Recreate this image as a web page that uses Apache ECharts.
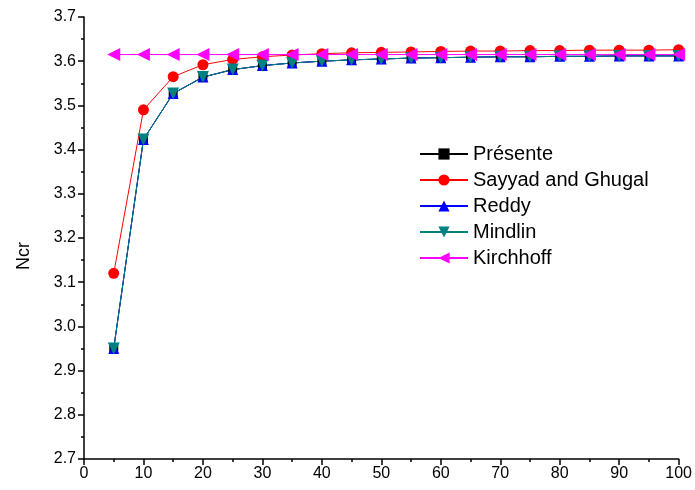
<!DOCTYPE html>
<html>
<head>
<meta charset="utf-8">
<script src="https://cdn.jsdelivr.net/npm/echarts@6/dist/echarts.min.js"></script>
<style>
  html, body { margin: 0; padding: 0; background: #fff; }
  #chart { width: 695px; height: 490px; }
</style>
</head>
<body>
<div id="chart"></div>
<script>
const ratios = [5, 10, 15, 20, 25, 30, 35, 40, 45, 50, 55, 60, 65, 70, 75, 80, 85, 90, 95, 100];
const presente = [2.95, 3.423, 3.527, 3.564, 3.581, 3.59, 3.596, 3.6, 3.603, 3.605, 3.607, 3.608, 3.609, 3.61, 3.61, 3.611, 3.611, 3.612, 3.612, 3.612];
const sayyad = [3.12, 3.49, 3.565, 3.592, 3.604, 3.61, 3.614, 3.617, 3.619, 3.62, 3.621, 3.622, 3.623, 3.623, 3.624, 3.624, 3.625, 3.625, 3.625, 3.626];
const reddy = [2.95, 3.423, 3.527, 3.564, 3.581, 3.59, 3.596, 3.6, 3.603, 3.605, 3.607, 3.608, 3.609, 3.61, 3.61, 3.611, 3.611, 3.612, 3.612, 3.612];
const mindlin = [2.95, 3.423, 3.527, 3.564, 3.581, 3.59, 3.596, 3.6, 3.603, 3.605, 3.607, 3.608, 3.609, 3.61, 3.61, 3.611, 3.611, 3.612, 3.612, 3.612];
const kirchhoff = [3.615, 3.615, 3.615, 3.615, 3.615, 3.615, 3.615, 3.615, 3.615, 3.615, 3.615, 3.615, 3.615, 3.615, 3.615, 3.615, 3.615, 3.615, 3.615, 3.615];

const pair = arr => ratios.map((x, i) => [x, arr[i]]);
const font = 'Liberation Sans, Arial, sans-serif';

const chart = echarts.init(document.getElementById('chart'));

const mk = (name, data, color, symbol, size, extra) => Object.assign({
  name: name,
  type: 'line',
  data: pair(data),
  symbol: symbol,
  symbolSize: size,
  lineStyle: { color: color, width: 1 },
  itemStyle: { color: color },
  animation: false
}, extra || {});

chart.setOption({
  animation: false,
  grid: { left: 84, right: 15, top: 17, bottom: 31 },
  legend: {
    orient: 'vertical',
    left: 414,
    top: 139,
    itemWidth: 48,
    itemHeight: 14,
    itemGap: 6,
    textStyle: { fontFamily: font, fontSize: 20, color: '#000' },
    data: ['Présente', 'Sayyad and Ghugal', 'Reddy', 'Mindlin', 'Kirchhoff']
  },
  xAxis: {
    type: 'value',
    min: 0, max: 100, interval: 10,
    splitLine: { show: false },
    axisLine: { lineStyle: { color: '#000', width: 1.5 } },
    axisTick: { inside: false, length: 6, lineStyle: { color: '#000', width: 1.5 } },
    minorTick: { show: true, splitNumber: 2, length: 3, lineStyle: { color: '#000', width: 1.5 } },
    axisLabel: { color: '#000', fontFamily: font, fontSize: 16, margin: 7 }
  },
  yAxis: {
    type: 'value',
    min: 2.7, max: 3.7, interval: 0.1,
    name: 'Ncr',
    nameLocation: 'middle',
    nameGap: 51,
    nameTextStyle: { color: '#000', fontFamily: font, fontSize: 18, padding: [0, 36, 0, 0] },
    splitLine: { show: false },
    axisLine: { show: true, lineStyle: { color: '#000', width: 1.5 } },
    axisTick: { show: true, inside: false, length: 6, lineStyle: { color: '#000', width: 1.5 } },
    minorTick: { show: true, splitNumber: 2, length: 3, lineStyle: { color: '#000', width: 1.5 } },
    axisLabel: { color: '#000', fontFamily: font, fontSize: 16, margin: 8, formatter: v => v.toFixed(1) }
  },
  series: [
    mk('Présente', presente, '#000000', 'rect', 9),
    mk('Sayyad and Ghugal', sayyad, '#ff0000', 'circle', 11),
    mk('Reddy', reddy, '#0000ff', 'triangle', 11),
    mk('Mindlin', mindlin, '#008080', 'triangle', 12, { symbolRotate: 180 }),
    mk('Kirchhoff', kirchhoff, '#ff00ff', 'triangle', 13, { symbolRotate: 90 })
  ]
});
</script>
</body>
</html>
